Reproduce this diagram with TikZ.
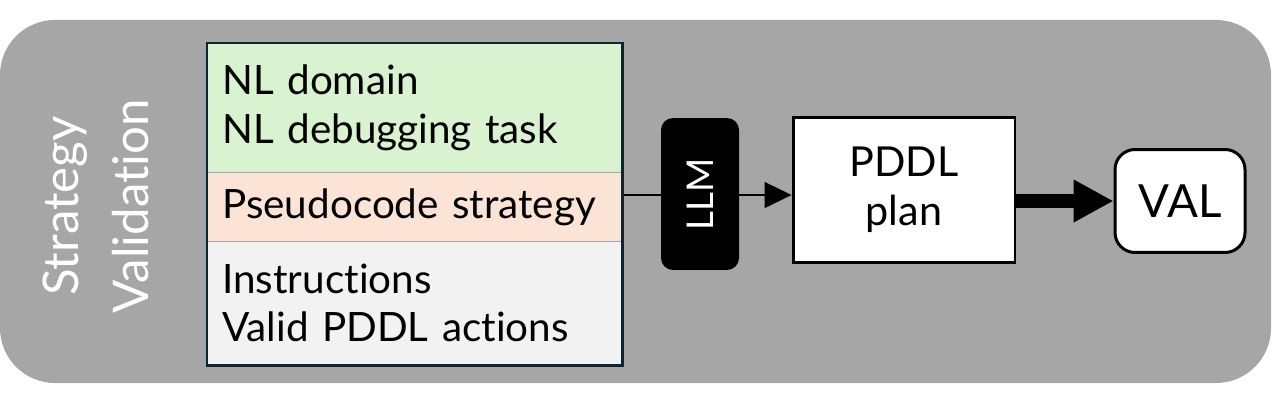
\documentclass[tikz,border=0pt]{standalone}
\usepackage{fontspec}
\setmainfont{Lato}[Ligatures=NoCommon]
\usetikzlibrary{arrows.meta,positioning,calc,fit}
\definecolor{PanelGray}{HTML}{A6A6A6}
\definecolor{InputGreen}{HTML}{D9F2D0}
\definecolor{InputSalmon}{HTML}{FBE3D6}
\definecolor{InputGray}{HTML}{F2F2F2}
\definecolor{FrameNavy}{HTML}{0E2433}

\begin{document}
\begin{tikzpicture}[
      x=0.02cm,y=-0.02cm,
      band/.style={anchor=north west,minimum width=8.3cm,inner xsep=0.3cm,inner ysep=0pt,
        text width=7.7cm,align=left,font=\fontsize{23}{27.5}\selectfont},
      box/.style={draw=black,fill=white,line width=1.7pt,align=center},
      thinarrow/.style={-{Triangle[length=0.54cm,width=0.52cm]},line width=0.8pt},
      thickarrow/.style={-{Triangle[length=0.8cm,width=0.8cm]},line width=7.4pt}
    ]
      \useasboundingbox (0,0) rectangle (1273,405);
      % panel
      \fill[PanelGray,rounded corners=1.1cm] (0,20) rectangle (1271,383);
      \node[rotate=90,text=white,align=center,font=\fontsize{28}{40}\selectfont] (title) at (96,206) {Strategy\\Validation};
      % prompt parts
      \node[band,fill=InputGreen,minimum height=2.58cm] (domain) at (207,43) {NL domain\\NL debugging task};
      \node[band,fill=InputSalmon,minimum height=1.36cm] (strategy) at (domain.south west) {Pseudocode strategy};
      \node[band,fill=InputGray,minimum height=2.46cm] (rules) at (strategy.south west) {Instructions\\Valid PDDL actions};
      \node[draw=FrameNavy,line width=1.7pt,inner sep=0pt,fit=(domain)(rules)] (inputs) {};
      % model and outputs
      \node[box,minimum width=4.44cm,minimum height=2.9cm,font=\fontsize{23.5}{28}\selectfont] (plan) at (904,190) {PDDL\\plan};
      \node[box,rounded corners=0.4cm,minimum width=2.6cm,minimum height=2.06cm,font=\fontsize{26}{30}\selectfont] (val) at (1180,201) {VAL};
      \draw[thinarrow] ($(inputs.east)+(0,-9)$) -- ($(inputs.east -| plan.west)+(0,-9)$);
      \node[fill=black,text=white,rounded corners=0.24cm,rotate=90,minimum width=3.04cm,minimum height=1.56cm,font=\fontsize{21}{24}\selectfont] (llm) at (700,194) {LLM};
      \draw[thickarrow] (plan.east |- val.west) -- (val.west);
    \end{tikzpicture}
\end{document}
